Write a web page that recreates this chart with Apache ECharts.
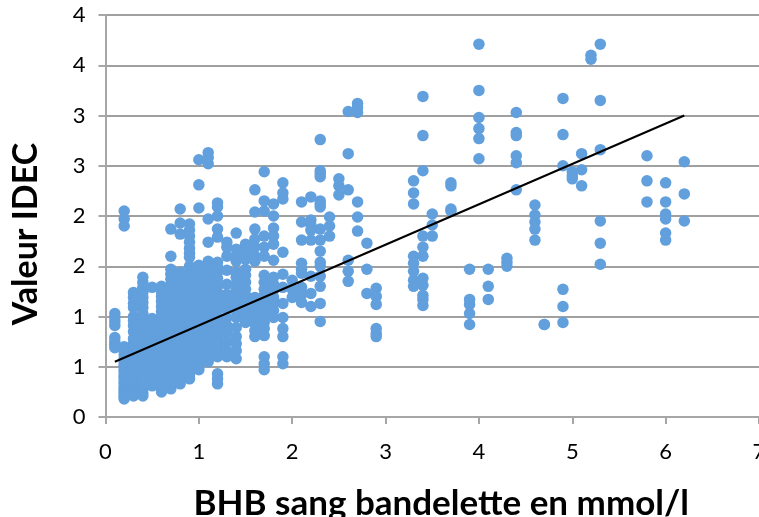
<!DOCTYPE html>
<html><head><meta charset="utf-8">
<style>html,body{margin:0;padding:0;background:#fff;overflow:hidden}#c{width:759px;height:517px}</style>
<script src="https://cdn.jsdelivr.net/npm/echarts@6/dist/echarts.min.js"></script></head>
<body><div id="c"></div>
<script>
const yTickLabels = ['0','1','1','2','2','3','3','4','4'];
const xTitle = 'BHB sang bandelette en mmol/l';
const yTitle = 'Valeur IDEC';
const trendX = [0.1, 6.2];
const trendY = [0.55, 3.0];

const at01 = [1.03,0.99,0.95,0.91,0.79,0.75,0.72,0.69];
const at02 = [2.05,1.97,1.90,0.70,0.66,0.62,0.58,0.55,0.52,0.50,0.47,0.45,0.42,0.40,0.38,0.35,0.33,0.30,0.28,0.26,0.24,0.22,0.20,0.18];
const at03 = [1.24,1.19,1.13,1.09,1.00,0.96,0.91,0.85,0.78,0.73,0.68,0.63,0.60,0.55,0.50,0.47,0.43,0.40,0.36,0.33,0.30,0.27,0.24,0.21];
const at04 = [1.39,1.34,1.29,1.24,1.19,1.14,1.09,1.03,0.98,0.93,0.88,0.83,0.78,0.73,0.68,0.63,0.58,0.53,0.48,0.44,0.40,0.36,0.32,0.28,0.24,0.21];
const at05 = [1.29,0.98,0.93,0.88,0.83,0.78,0.73,0.68,0.63,0.58,0.54,0.50,0.46,0.42,0.38,0.35,0.31];
const at06 = [1.30,1.25,1.20,1.15,1.10,1.05,1.00,0.95,0.90,0.85,0.80,0.75,0.70,0.65,0.60,0.55,0.50,0.45,0.40,0.36,0.32,0.28,0.25];
const at07 = [1.87,1.60,1.47,1.42,1.37,1.31,1.25,1.19,1.14,1.09,1.04,0.99,0.94,0.89,0.84,0.79,0.74,0.69,0.64,0.59,0.54,0.49,0.44,0.40,0.36,0.32,0.28];
const at08 = [2.07,1.93,1.82,1.44,1.39,1.34,1.29,1.24,1.19,1.14,1.09,1.04,0.99,0.94,0.89,0.84,0.79,0.74,0.69,0.64,0.59,0.54,0.49,0.45,0.41,0.37,0.33];
const at09 = [1.92,1.86,1.80,1.74,1.68,1.63,1.59,1.50,1.45,1.40,1.35,1.30,1.25,1.20,1.15,1.10,1.05,1.00,0.95,0.90,0.85,0.80,0.75,0.70,0.65,0.60,0.55,0.50,0.46,0.42,0.38];
const at10 = [2.56,2.31,2.08,1.51,1.46,1.41,1.35,1.28,1.22,1.16,1.10,1.05,1.00,0.95,0.90,0.85,0.80,0.75,0.70,0.65,0.61,0.57,0.53,0.50,0.47];
const at11 = [2.63,2.58,2.52,1.97,1.74,1.55,1.50,1.45,1.40,1.34,1.28,1.22,1.16,1.10,1.04,0.99,0.94,0.89,0.84,0.79,0.74,0.70,0.66,0.62,0.58,0.55];
const at12 = [2.13,2.09,2.00,1.87,1.79,1.54,1.49,1.44,1.38,1.30,1.24,1.18,1.12,1.06,1.00,0.95,0.90,0.85,0.80,0.75,0.70,0.65,0.60,0.43,0.38,0.33];
const at13 = [1.74,1.69,1.60,1.46,1.32,1.22,1.16,1.08,0.99,0.91,0.84,0.75,0.66,0.60];
const at14 = [1.83,1.67,1.60,1.55,1.44,1.39,1.32,1.26,1.19,1.13,1.06,0.99,0.89,0.80,0.73,0.66,0.58];
const at15 = [1.72,1.65,1.57,1.47,1.41,1.34,1.27,1.21,1.13,1.06,0.99,0.94];
const at16 = [2.26,2.04,1.87,1.77,1.69,1.60,1.55,1.19,1.13,1.06,0.99,0.93,0.86,0.80];
const at17 = [2.44,2.15,2.05,1.80,1.69,1.60,1.41,1.34,1.27,1.21,1.14,1.08,1.01,0.94,0.88,0.81,0.60,0.53,0.47];
const at18 = [2.12,2.00,1.88,1.80,1.72,1.56,1.39,1.32,1.26,1.19,1.13,1.06,0.99];
const at19 = [2.33,2.23,2.17,1.64,1.42,1.29,1.13,0.99,0.88,0.80,0.60,0.53];
const at20 = [1.36,1.27,1.19];
const at21 = [2.14,1.94,1.76,1.53,1.47,1.43,1.29,1.22,1.14];
const at22 = [2.19,1.96,1.91,1.86,1.76,1.40,1.23,1.10];
const at23 = [2.76,2.45,2.42,2.39,2.15,2.12,2.09,1.87,1.76,1.65,1.54,1.50,1.40,1.30,1.13,0.95];
const at24 = [1.99,1.90,1.80];
const at25 = [2.37,2.30,2.21];
const at26 = [3.04,2.62,2.26,1.56,1.45,1.35];
const at27 = [3.12,3.08,3.03,2.14,1.99,1.85];
const at28 = [1.73,1.47,1.23];
const at29 = [1.28,1.20,1.12,0.88,0.83,0.80];
const at33 = [2.35,2.23,2.12,1.60,1.53,1.45,1.36,1.30];
const at34 = [3.19,2.80,2.45,1.80,1.69,1.60,1.38,1.31,1.21,1.17,1.11];
const at35 = [2.02,1.91,1.80];
const at37 = [2.33,2.30,2.07,2.05];
const at39 = [1.47,1.17,1.12,1.03,0.92];
const at40 = [3.71,3.25,2.98,2.87,2.77,2.57];
const at41 = [1.47,1.30,1.17];
const at43 = [1.58,1.54,1.50];
const at44 = [3.03,2.83,2.80,2.60,2.53,2.26];
const at46 = [2.11,2.01,1.94,1.87,1.76];
const at47 = [0.92,0.92];
const at49 = [3.17,2.81,2.50,1.27,1.10,0.94];
const at50 = [2.44,2.40,2.37];
const at51 = [2.62,2.46,2.30];
const at52 = [3.60,3.56];
const at53 = [3.71,3.15,2.66,1.95,1.73,1.52];
const at58 = [2.60,2.35,2.14];
const at60 = [2.33,2.14,2.02,1.97,1.83,1.76];
const at62 = [2.54,2.22,1.95];

const columns = [[0.1,at01],[0.2,at02],[0.3,at03],[0.4,at04],[0.5,at05],[0.6,at06],[0.7,at07],[0.8,at08],[0.9,at09],[1.0,at10],[1.1,at11],[1.2,at12],[1.3,at13],[1.4,at14],[1.5,at15],[1.6,at16],[1.7,at17],[1.8,at18],[1.9,at19],[2.0,at20],[2.1,at21],[2.2,at22],[2.3,at23],[2.4,at24],[2.5,at25],[2.6,at26],[2.7,at27],[2.8,at28],[2.9,at29],[3.3,at33],[3.4,at34],[3.5,at35],[3.7,at37],[3.9,at39],[4.0,at40],[4.1,at41],[4.3,at43],[4.4,at44],[4.6,at46],[4.7,at47],[4.9,at49],[5.0,at50],[5.1,at51],[5.2,at52],[5.3,at53],[5.8,at58],[6.0,at60],[6.2,at62]];
const points = [];
columns.forEach(([x, ys]) => ys.forEach(y => points.push([x, y])));

const chart = echarts.init(document.getElementById('c'), null, {renderer:'canvas'});
const FONT = 'Lato';
chart.setOption({
  animation:false,
  grid:{left:105.5,right:0,top:15,bottom:100,containLabel:false,outerBoundsMode:'none'},
  xAxis:{type:'value',min:0,max:7,interval:1,
    name:xTitle,nameLocation:'middle',nameGap:69,
    nameTextStyle:{fontFamily:FONT,fontWeight:'bold',fontSize:35,color:'#000',padding:[0,0,0,18]},
    axisLine:{show:true,lineStyle:{color:'#a6a6a6',width:2}},
    axisTick:{show:true,length:7,lineStyle:{color:'#a6a6a6',width:2}},
    axisLabel:{fontFamily:FONT,fontSize:22,color:'#000',margin:24,hideOverlap:false,showMaxLabel:true},
    splitLine:{show:false}},
  yAxis:{type:'value',min:0,max:4,interval:0.5,
    name:yTitle,nameLocation:'middle',nameGap:62,nameRotate:90,
    nameTextStyle:{fontFamily:FONT,fontWeight:'bold',fontSize:34,color:'#000',padding:[0,36,0,0]},
    axisLine:{show:true,lineStyle:{color:'#a6a6a6',width:2}},
    axisTick:{show:true,length:7,lineStyle:{color:'#a6a6a6',width:2}},
    axisLabel:{fontFamily:FONT,fontSize:22,color:'#000',margin:20,
      formatter:(v,i)=>yTickLabels[Math.round(v/0.5)]},
    splitLine:{show:true,lineStyle:{color:'#a0a0a0',width:2}}},
  series:[
    {type:'scatter',data:points,symbol:'circle',symbolSize:11.5,clip:false,
      itemStyle:{color:'#629fdd',opacity:1},silent:true,z:2},
    {type:'line',data:trendX.map((x,i)=>[x,trendY[i]]),symbol:'none',
      lineStyle:{color:'#000',width:2},silent:true,z:3}
  ]
});
</script></body></html>
